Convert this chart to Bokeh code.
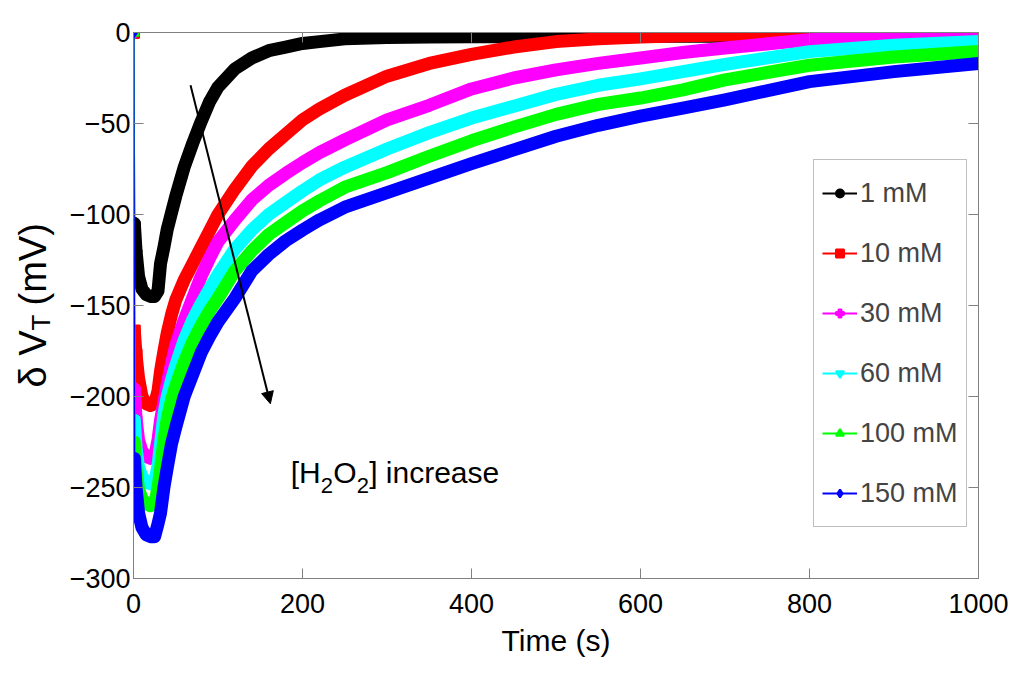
import math
from bokeh.plotting import figure
from bokeh.layouts import row
from bokeh.models import (ColumnDataSource, Range1d, LinearAxis, FixedTicker,
                          CustomJSTickFormatter, Legend, LegendItem, Label,
                          Arrow, NormalHead)
from bokeh.embed import file_html
from bokeh.resources import INLINE

# time axis (s) and the six traces (mV)
time_s = [0, 1, 3, 6, 10, 15, 20, 25, 29, 32,
          36, 40, 45, 50, 60, 70, 80, 90, 100,
          120, 140, 160, 180, 200, 220, 250, 300, 350, 400,
          450, 500, 550, 600, 650, 700, 800, 900, 1000]

mv_1mM = [0, -105, -120, -134, -141, -144, -145, -145, -142, -127,
          -118, -108, -99, -90, -74, -61, -49, -38, -30,
          -20, -14, -10, -8, -6, -5, -3.5, -2.8, -2.5, -2.4,
          -2.3, -2.2, -2.2, -2.1, -2, -2, -2, -2, -2]
mv_10mM = [0, -164, -177, -190, -200, -204, -205, -204, -197, -186,
           -175, -165, -155, -147, -136, -127, -118, -109, -100,
           -86, -73.5, -64, -56, -48, -42, -34.5, -24, -17, -12,
           -8, -5, -3.5, -2.5, -1.8, -1.4, -1.1, -1, -1]
mv_30mM = [0, -196, -212, -224, -230, -233, -234, -233, -224, -213,
           -203, -193, -182, -172, -158, -146, -134, -124, -115,
           -103, -92, -84, -77.5, -71.5, -66, -59, -48, -40, -31,
           -25, -20.5, -17, -14, -11, -8.5, -4, -2.5, -1.5]
mv_60mM = [0, -213, -228, -239, -244, -247, -248, -247, -238, -226,
           -210, -200, -191, -183, -169, -158, -149, -141, -133,
           -119, -108.5, -100, -93.5, -87, -81, -74, -64, -55, -47,
           -40.5, -34, -29, -25.5, -21.5, -17.5, -10.5, -7, -5]
mv_100mM = [0, -225, -240, -251, -256, -259, -260, -259, -250, -240,
            -224, -212, -202, -194, -181, -170, -161, -153, -146,
            -131, -120, -111, -104.5, -98, -92.5, -85, -77, -68, -59.5,
            -52, -45, -39.5, -36, -31.5, -26, -18, -13.5, -10.5]
mv_150mM = [0, -234, -250, -264, -272, -276, -277, -277, -270, -264,
            -250, -239, -226, -217, -200, -188, -176, -167, -159,
            -146, -131, -122, -114.5, -108.5, -103, -96, -88, -80, -72,
            -64.5, -57, -51, -46, -41.5, -37, -27, -21.5, -17]

labels = ["1 mM", "10 mM", "30 mM", "60 mM", "100 mM", "150 mM"]
x_ticks = [0, 200, 400, 600, 800, 1000]
y_ticks = [0, -50, -100, -150, -200, -250, -300]

series = [
    (mv_1mM, "#000000", "circle"),
    (mv_10mM, "#ff0000", "square"),
    (mv_30mM, "#ff00ff", "plus"),
    (mv_60mM, "#00ffff", "inverted_triangle"),
    (mv_100mM, "#00ff00", "triangle"),
    (mv_150mM, "#0000ff", "diamond"),
]

FONT = "Liberation Sans"
GREY = "#808080"

p = figure(width=958, height=679, x_range=Range1d(0, 1000), y_range=Range1d(-300, 0),
           output_backend="svg", toolbar_location=None,
           min_border_left=67, min_border_right=46, min_border_top=32, min_border_bottom=101)
p.xgrid.visible = False
p.ygrid.visible = False
p.outline_line_color = GREY
p.background_fill_color = "white"


def style_axis(ax, ticks):
    ax.ticker = FixedTicker(ticks=ticks)
    ax.axis_line_color = GREY
    ax.major_tick_line_color = GREY
    ax.major_tick_in = 10
    ax.major_tick_out = 0
    ax.minor_tick_line_color = None
    ax.major_label_text_font = FONT
    ax.major_label_text_font_size = "27px"
    ax.major_label_text_color = "black"


style_axis(p.xaxis[0], x_ticks)
style_axis(p.yaxis[0], y_ticks)
p.xaxis.major_label_standoff = 15
p.yaxis.major_label_standoff = 3
p.xaxis.axis_label = "Time (s)"
p.xaxis.axis_label_text_font = FONT
p.xaxis.axis_label_text_font_size = "30px"
p.xaxis.axis_label_text_font_style = "normal"
p.xaxis.axis_label_text_color = "black"
p.xaxis.axis_label_standoff = 8

# box ticks on top and right, no labels
for place, ticks in (("above", x_ticks), ("right", y_ticks)):
    ax = LinearAxis(formatter=CustomJSTickFormatter(code="return ''"))
    style_axis(ax, ticks)
    ax.major_label_text_font_size = "1px"
    ax.major_label_standoff = 0
    p.add_layout(ax, place)

items = []
for (vals, color, marker), name in zip(series, labels):
    src = ColumnDataSource(dict(t=time_s, v=vals))
    band = ColumnDataSource(dict(t=time_s[1:], v=vals[1:]))
    first = ColumnDataSource(dict(t=time_s[:3], v=vals[:3]))
    p.line("t", "v", source=band, line_width=13, color=color,
           line_join="round", line_cap="round")
    thin = p.line("t", "v", source=src, line_width=2, color=color)
    dots = p.scatter("t", "v", source=first, marker=marker, size=11,
                     color=color, line_width=2)
    items.append(LegendItem(label=name, renderers=[thin, dots]))

legend = Legend(items=items, location=(680, 51), glyph_width=35, glyph_height=20,
                label_height=50, spacing=10, padding=8, margin=0, label_standoff=3,
                label_text_font=FONT, label_text_font_size="27px",
                border_line_color=GREY, border_line_width=1.5,
                background_fill_color="white", background_fill_alpha=1)
p.add_layout(legend)

# arrow and its note
p.add_layout(Arrow(end=NormalHead(size=12, fill_color="black", line_color="black"),
                   x_start=67.5, y_start=-29, x_end=162, y_end=-204,
                   line_width=2, line_color="black"))

note = [("[H", 30, 0, 0), ("2", 22, 30, -13), ("O", 30, 42.5, 0),
        ("2", 22, 66, -13), ("] increase", 30, 78.5, 0)]
for txt, size, dx, dy in note:
    p.add_layout(Label(x=186, y=-242, text=txt, x_offset=dx, y_offset=dy,
                       text_font=FONT, text_font_size=f"{size}px",
                       text_baseline="alphabetic", text_color="black"))

# y axis title with subscript, in a narrow strip to the left of the plot
tf = figure(frame_width=66, frame_height=679, x_range=Range1d(0, 66), y_range=Range1d(0, 679),
            output_backend="svg", toolbar_location=None, title=None,
            x_axis_type=None, y_axis_type=None, min_border=0)
tf.min_border_left = 0
tf.min_border_right = 0
tf.min_border_top = 0
tf.min_border_bottom = 0
tf.grid.visible = False
tf.outline_line_color = None
ytitle = [("\u03b4 V", 32, 324, "38px"), ("T", 40, 381, "26px"), ("(mV)", 32, 406, "38px")]
for txt, tx, ty, size in ytitle:
    tf.add_layout(Label(x=tx, y=ty, text=txt, angle=math.pi / 2,
                        text_font=FONT, text_font_size=size,
                        text_baseline="alphabetic", text_align="left",
                        text_color="black"))

layout = row(tf, p)
open("out.html", "w").write(file_html(layout, INLINE))
